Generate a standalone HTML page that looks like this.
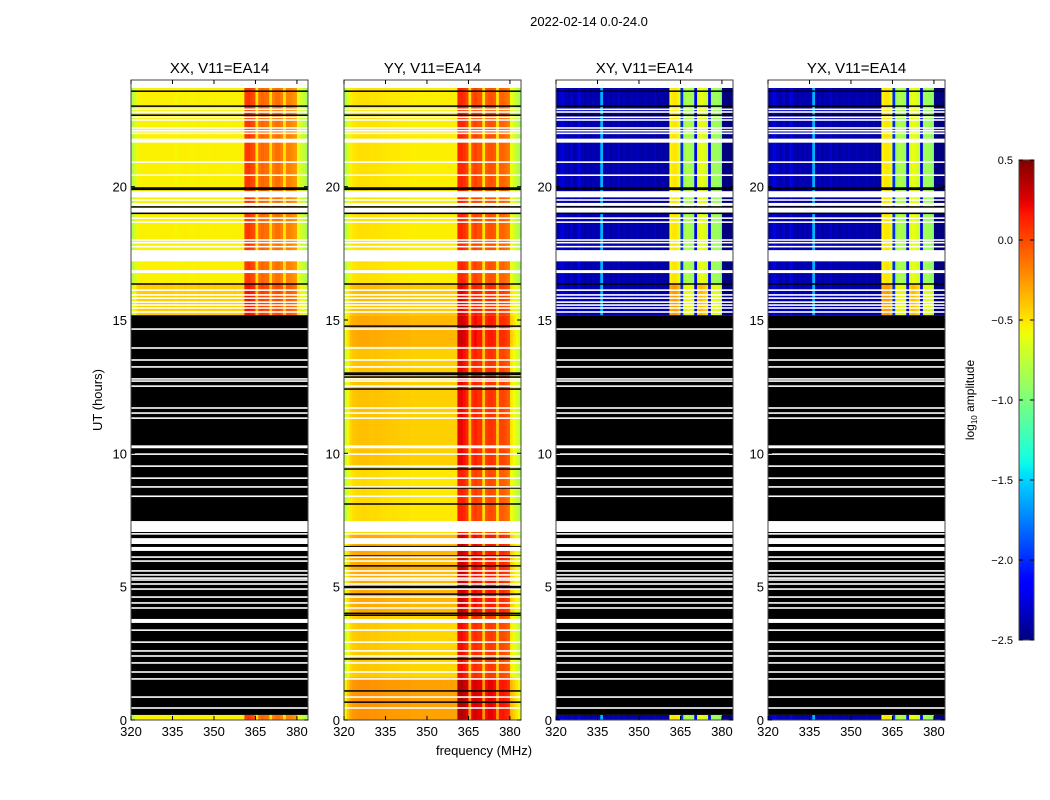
<!DOCTYPE html>
<html><head><meta charset="utf-8">
<style>
html,body{margin:0;padding:0;background:#fff;}
svg{display:block;font-family:"Liberation Sans",sans-serif;}
</style></head>
<body>
<svg id="fig" width="1050" height="800" xmlns="http://www.w3.org/2000/svg">
<rect x="0" y="0" width="1050" height="800" fill="#fff"/>
<text x="589" y="26" font-size="13" text-anchor="middle">2022-02-14 0.0-24.0</text>
<text x="102" y="400" font-size="13" text-anchor="middle" transform="rotate(-90 102 400)">UT (hours)</text>
<text x="484" y="755" font-size="13" text-anchor="middle">frequency (MHz)</text>
<g id="panels"></g>
<g id="cbar"></g>
</svg>
<script>
// ---- data ----
const panelTitles = ["XX, V11=EA14","YY, V11=EA14","XY, V11=EA14","YX, V11=EA14"];
const xTicks = [320,335,350,365,380];
const yTicks = [0,5,10,15,20];
const cbarTicks = [0.5,0.0,-0.5,-1.0,-1.5,-2.0,-2.5];
// channel profiles (log10 amplitude), 64 x 1 MHz channels from 320 MHz
const profParallel = [-0.8,-0.68,-0.56,-0.54,-0.54,-0.53,-0.54,-0.54,-0.53,-0.54,-0.54,-0.54,-0.53,-0.54,-0.54,-0.54,-0.56,-0.54,-0.54,-0.53,-0.54,-0.54,-0.54,-0.54,-0.53,-0.54,-0.54,-0.54,-0.54,-0.54,-0.53,-0.54,-0.54,-0.54,-0.54,-0.54,-0.54,-0.53,-0.54,-0.54,-0.54,0.05,0.07,0.02,-0.02,-0.5,-0.12,-0.08,-0.12,-0.12,-0.5,-0.18,-0.12,-0.12,-0.18,-0.5,-0.18,-0.18,-0.22,-0.25,-0.6,-0.68,-0.75,-0.85];
const profYY = [-0.8,-0.66,-0.54,-0.5,-0.49,-0.48,-0.48,-0.48,-0.48,-0.49,-0.49,-0.49,-0.49,-0.5,-0.5,-0.5,-0.51,-0.51,-0.51,-0.51,-0.52,-0.52,-0.52,-0.52,-0.53,-0.53,-0.53,-0.53,-0.53,-0.53,-0.53,-0.53,-0.53,-0.53,-0.53,-0.53,-0.53,-0.53,-0.53,-0.53,-0.53,0.12,0.12,0.08,0.02,-0.5,-0.02,0.03,-0.02,-0.02,-0.5,-0.06,-0.02,-0.02,-0.06,-0.5,-0.08,-0.08,-0.12,-0.15,-0.6,-0.68,-0.75,-0.85];
const profCross = [-2.4,-2.3,-2.25,-2.35,-2.4,-2.3,-2.4,-2.35,-2.25,-2.4,-2.4,-2.35,-2.4,-2.35,-2.4,-2.35,-1.6,-2.4,-2.35,-2.4,-2.35,-2.4,-2.3,-2.4,-2.35,-2.4,-2.4,-2.35,-2.4,-2.35,-2.4,-2.4,-2.35,-2.4,-2.4,-2.35,-2.4,-2.4,-2.4,-2.4,-2.45,-0.55,-0.5,-0.5,-0.6,-2.0,-0.9,-0.8,-0.85,-0.9,-2.2,-0.65,-0.6,-0.65,-0.7,-2.2,-0.9,-0.85,-0.9,-0.95,-2.5,-2.5,-2.5,-2.5];
// data segments [startHour, endHour, offset]
const segsFlaggedLow = [[0,0.19,0],[15.18,16.35,0.12],[16.35,23.7,0]];
const segsYY = [[0,1.6,0.25],[1.6,4.0,0.08],[4.0,7.0,0.18],[7.0,9.5,0.02],[9.5,14.0,0.1],[14.0,15.18,0.18],[15.18,16.35,0.12],[16.35,23.7,0]];
const blackFlag = [[0.19,15.18]];
// white gaps (hours) shared by all panels; equal start/end = thin line
const whiteGaps = [[23.7,24],[22.9,22.9],[22.8,22.8],[22.6,22.6],[22.5,22.5],[22.2,22.2],[22.1,22.1],[22.0,22.0],[21.65,21.8],[20.92,20.92],[20.43,20.43],[19.6,19.83],[19.5,19.5],[19.28,19.39],[19.02,19.22],[18.82,18.82],[18.67,18.67],[18.0,18.0],[17.9,17.9],[17.75,17.75],[17.2,17.62],[16.76,16.87],[16.12,16.12],[15.94,15.94],[15.82,15.82],[15.67,15.67],[15.56,15.56],[15.45,15.45],[15.3,15.3],
 [14.66,14.66],[13.95,13.95],[13.5,13.5],[13.24,13.24],[12.79,12.79],[12.71,12.71],[12.52,12.52],[11.7,11.7],[11.51,11.51],[11.32,11.32],[10.27,10.27],[10.22,10.22],[9.97,9.97],[9.52,9.52],[9.07,9.07],[8.74,8.74],[8.36,8.42],[7.05,7.46],[6.98,6.98],[6.6,6.82],[6.34,6.49],[6.11,6.11],[5.96,5.96],[5.59,5.59],[5.44,5.44],[5.32,5.32],[5.25,5.25],[5.1,5.1],[4.91,4.91],[4.61,4.61],[4.39,4.39],[4.2,4.2],[3.64,3.79],[3.37,3.37],[2.92,2.92],[2.59,2.59],[2.4,2.4],[2.14,2.14],[1.8,1.8],[1.54,1.54],[0.86,0.86],[0.45,0.45]];
// thin black lines (all panels, top region) and extra YY black lines
const blackLinesTop = [23.58,23.02,22.68,19.95,19.9,19.24,19.0,16.35];
const blackLinesYY = [14.77,13.01,12.96,12.86,12.41,9.41,8.7,8.1,6.5,6.15,5.78,5.0,4.95,4.72,4.0,3.93,2.29,1.09,0.67];

// ---- geometry ----
const panelX = [131,344,556,768];
const PW = 177, PT = 80, PB = 720;
const FMIN = 320, FMAX = 384, HMAX = 24;
const NS = "http://www.w3.org/2000/svg";
function yOf(h){ return PB - h*(PB-PT)/HMAX; }
function xOf(px0,f){ return px0 + (f-FMIN)*PW/(FMAX-FMIN); }
function clip(v){ return Math.max(0,Math.min(1,v)); }
function interp(pts,x){
  for (let i=0;i<pts.length-1;i++){
    const a=pts[i], b=pts[i+1];
    if (x>=a[0] && x<=b[0]) return a[1]+(b[1]-a[1])*(x-a[0])/(b[0]-a[0]);
  }
  return pts[pts.length-1][1];
}
const JR=[[0,0],[0.35,0],[0.66,1],[0.89,1],[1,0.5]];
const JG=[[0,0],[0.125,0],[0.375,1],[0.64,1],[0.91,0],[1,0]];
const JB=[[0,0.5],[0.11,1],[0.34,1],[0.65,0],[1,0]];
function jet(v){
  const x = clip((v+2.5)/3.0);
  const r=interp(JR,x), g=interp(JG,x), b=interp(JB,x);
  return `rgb(${Math.round(r*255)},${Math.round(g*255)},${Math.round(b*255)})`;
}
function mk(tag, attrs, parent){
  const e = document.createElementNS(NS, tag);
  for (const k in attrs) e.setAttribute(k, attrs[k]);
  parent.appendChild(e); return e;
}
const root = document.getElementById('panels');
const profiles = [profParallel, profYY, profCross, profCross];
const segSets = [segsFlaggedLow, segsYY, segsFlaggedLow, segsFlaggedLow];

for (let p=0;p<4;p++){
  const x0 = panelX[p];
  const g = mk('g',{},root);
  
  
  const hm = mk('g',{},g);
  
  
  const prof = profiles[p];
  for (const s of segSets[p]){
    const y1 = yOf(s[1]), y0 = yOf(s[0]);
    for (let c=0;c<prof.length;c++){
      const xa = xOf(x0, FMIN+c), xb = xOf(x0, FMIN+c+1);
      const off = (p>=2) ? (prof[c] > -1.5 ? s[2]*2 : 0) : s[2];
      const r = mk('rect',{x:xa.toFixed(2),y:y1.toFixed(2),width:(xb-xa+0.3).toFixed(2),height:(y0-y1).toFixed(2),fill:jet(prof[c]+off)},hm);
      
      
    }
  }
  if (p !== 1){
    for (const b of blackFlag){
      const r = mk('rect',{x:x0,y:yOf(b[1]),width:PW,height:yOf(b[0])-yOf(b[1]),fill:'#000'},g);
      
      
    }
  } else {
    for (const h of blackLinesYY){
      const r = mk('rect',{x:x0,y:yOf(h)-0.75,width:PW,height:1.5,fill:'#000'},g);
      
      
    }
  }
  for (const w of whiteGaps){
    const ya = yOf(w[1]), yb = yOf(w[0]);
    const hgt = Math.max(yb-ya, 1.6);
    const r = mk('rect',{x:x0,y:(w[0]===w[1]? ya-0.8 : ya),width:PW,height:hgt,fill:'#fff'},g);
    
    
  }
  for (const h of blackLinesTop){
    const r = mk('rect',{x:x0,y:yOf(h)-0.75,width:PW,height:1.5,fill:'#000'},g);
    
    
  }
  const fr = mk('rect',{x:x0,y:PT,width:PW,height:PB-PT,fill:'none',stroke:'#444','stroke-width':1},g);
  
  
  const t = mk('text',{x:x0+PW/2,y:73,'font-size':15,'text-anchor':'middle'},g);
  t.textContent = panelTitles[p];
  
  
  for (const f of xTicks){
    const xx = xOf(x0,f);
    mk('line',{x1:xx,x2:xx,y1:PB,y2:PB-4,stroke:'#000','stroke-width':1},g);
    mk('line',{x1:xx,x2:xx,y1:PT,y2:PT+4,stroke:'#000','stroke-width':1},g);
    const tl = mk('text',{x:xx,y:PB+16,'font-size':13,'text-anchor':'middle'},g);
    tl.textContent = f;
    
    
  }
  for (const h of yTicks){
    const yy = yOf(h);
    mk('line',{x1:x0,x2:x0+4,y1:yy,y2:yy,stroke:'#000','stroke-width':1},g);
    mk('line',{x1:x0+PW,x2:x0+PW-4,y1:yy,y2:yy,stroke:'#000','stroke-width':1},g);
    const tl = mk('text',{x:x0-4,y:yy+5,'font-size':13,'text-anchor':'end'},g);
    tl.textContent = h;
    
    
  }
}
// ---- colorbar ----
const cb = document.getElementById('cbar');
const CX=1019, CW=15, CT=160, CB=640;
const defs = mk('defs',{},cb);
const lg = mk('linearGradient',{id:'jetg',x1:0,y1:1,x2:0,y2:0},defs);
for (let i=0;i<=60;i++){
  mk('stop',{offset:(i/60),'stop-color':jet(-2.5+3*i/60)},lg);
}
const cbr = mk('rect',{x:CX,y:CT,width:CW,height:CB-CT,fill:'url(#jetg)',stroke:'#444','stroke-width':1},cb);


for (const v of cbarTicks){
  const yy = CB - (v+2.5)/3*(CB-CT);
  mk('line',{x1:CX,x2:CX+4,y1:yy,y2:yy,stroke:'#000'},cb);
  mk('line',{x1:CX+CW,x2:CX+CW-4,y1:yy,y2:yy,stroke:'#000'},cb);
  const tl = mk('text',{x:1013,y:yy+4,'font-size':11,'text-anchor':'end'},cb);
  tl.textContent = (v===0 ? '0.0' : v.toFixed(1).replace('-','\u2212'));
  
  
}
const cl = mk('text',{x:974,y:400,'font-size':12,'text-anchor':'middle',transform:'rotate(-90 974 400)'},cb);
cl.innerHTML = 'log<tspan font-size="8" dy="3">10</tspan><tspan dy="-3"> amplitude</tspan>';


</script>
</body></html>
